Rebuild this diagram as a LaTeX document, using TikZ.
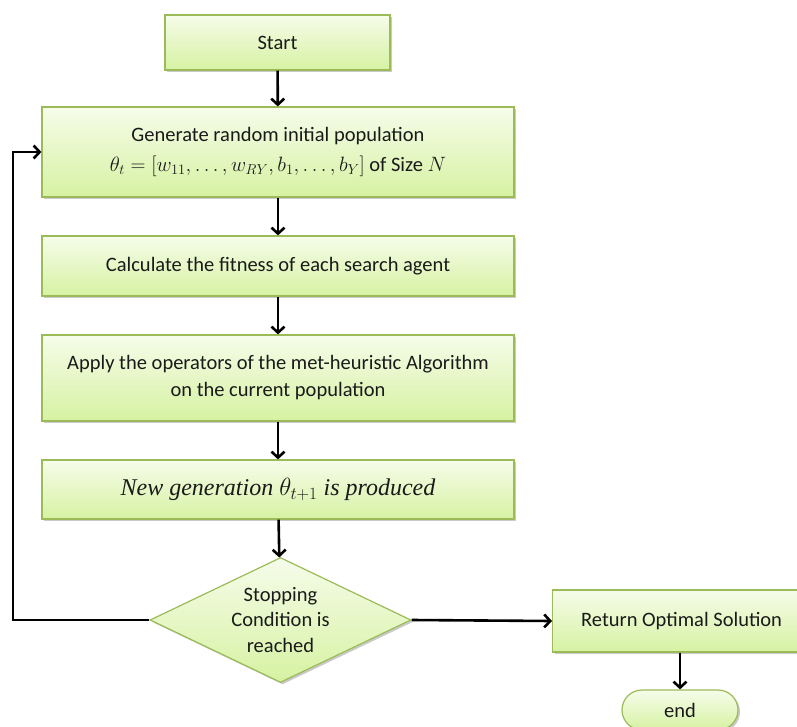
\documentclass[tikz,border=0pt]{standalone}
\usepackage{fontspec}
\setmainfont{Carlito}
\newfontfamily\seriffont{Liberation Serif}
\usetikzlibrary{shapes.geometric,shapes.misc,arrows.meta,shadows}
\definecolor{boxline}{HTML}{9BBB59}
\definecolor{boxtop}{HTML}{F6FCEA}
\definecolor{boxbot}{HTML}{D6F2A2}
\definecolor{txt}{HTML}{1A1A1A}
\tikzset{
  flowbox/.style={draw=boxline, line width=1.2pt, top color=boxtop, bottom color=boxbot,
    drop shadow={shadow xshift=2pt, shadow yshift=-2pt, opacity=0.35, fill=black!60},
    text=txt, align=center, inner sep=0pt, font=\fontsize{20.5}{27}\selectfont},
  flowdiamond/.style={flowbox, diamond, shape aspect=2.09},
  flowterm/.style={flowbox, rounded rectangle},
  conn/.style={line width=2.6pt, -{Straight Barb[length=6pt,width=13pt,line width=2.6pt]}},
}
\begin{document}
\begin{tikzpicture}[x=1pt,y=1pt]
\useasboundingbox (0,0) rectangle (797,-727);
\node[flowbox, minimum width=225pt, minimum height=55pt] (start) at (277.5,-42.5) {Start};
\node[flowbox, minimum width=472pt, minimum height=90pt, font=\fontsize{20.5}{30}\selectfont] (gen) at (278,-152) {Generate random initial population\\ {\fontsize{22}{30}\selectfont$\theta_t=[w_{11},\ldots,w_{RY},b_1,\ldots,b_Y]$} of Size {\fontsize{22}{30}\selectfont$N$}};
\node[flowbox, minimum width=472pt, minimum height=60pt] (fit) at (278,-266) {Calculate the fitness of each search agent};
\node[flowbox, minimum width=472pt, minimum height=86pt] (apply) at (278,-378) {Apply the operators of the met-heuristic Algorithm\\ on the current population};
\node[flowbox, minimum width=472pt, minimum height=59pt, font=\fontsize{24}{27}\seriffont\itshape] (newgen) at (278,-489.5) {New generation $\theta_{t+1}$ is produced};
\node[flowdiamond, minimum width=261pt, minimum height=125pt, font=\fontsize{20.5}{25.5}\selectfont] (stop) at (280.5,-620) {Stopping\\ Condition is\\ reached};
\node[flowbox, minimum width=258pt, minimum height=62pt, anchor=west] (ret) at (552,-621) {Return Optimal Solution};
\node[flowterm, minimum width=116pt, minimum height=40pt] (end) at (680,-710) {end};
\coordinate (loopbot) at (13,-620);
\coordinate (looptop) at (13,-152);
\draw[conn] (start) -- (gen);
\draw[conn] (gen) -- (fit);
\draw[conn] (fit) -- (apply);
\draw[conn] (apply) -- (newgen);
\draw[conn] (newgen) -- (stop);
\draw[conn] (stop.east) -- (ret.west);
\draw[conn] (ret.south -| end.north) -- (end.north);
\draw[conn, line join=miter] (stop.west) -- (loopbot) -- (looptop) -- (gen.west);
\end{tikzpicture}
\end{document}
